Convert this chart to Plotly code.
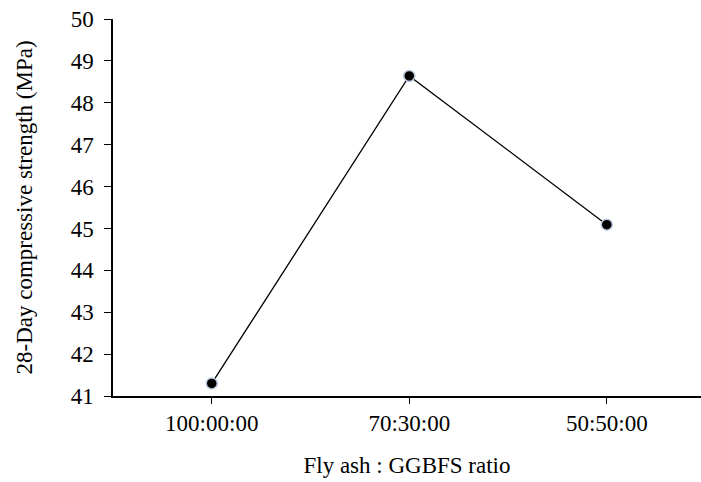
import plotly.graph_objects as go

ratios = ["100:00:00", "70:30:00", "50:50:00"]
strength = [41.30, 48.64, 45.09]
y_ticks = list(range(41, 51))

font_family = "Liberation Serif, Times New Roman, serif"
fs = 23

fig = go.Figure()
fig.add_trace(go.Scatter(
    x=ratios, y=strength, mode="lines+markers",
    line=dict(color="black", width=1.3),
    marker=dict(color="black", size=11, line=dict(color="#b8c8dc", width=1.5)),
    showlegend=False,
))

fig.update_layout(
    width=701, height=482,
    margin=dict(l=113, r=0, t=19, b=86),
    paper_bgcolor="white", plot_bgcolor="white",
    font=dict(family=font_family, size=fs, color="black"),
)
fig.update_xaxes(
    type="category", range=[-0.5, 2.477],
    showline=True, linecolor="black", linewidth=1.5,
    ticks="outside", ticklen=6, tickcolor="black", tickwidth=1,
    showgrid=False, zeroline=False,
    tickfont=dict(family=font_family, size=fs),
    title=dict(text="Fly ash : GGBFS ratio", font=dict(family=font_family, size=fs), standoff=22),
)
fig.update_yaxes(
    range=[41, 50], tickvals=y_ticks,
    showline=True, linecolor="black", linewidth=1.5,
    ticks="outside", ticklen=7, tickcolor="black", tickwidth=1,
    showgrid=False, zeroline=False,
    tickfont=dict(family=font_family, size=fs),
    ticklabelstandoff=6,
    title=dict(text="28-Day compressive strength (MPa)", font=dict(family=font_family, size=fs), standoff=32),
)

fig.write_html("out.html")
